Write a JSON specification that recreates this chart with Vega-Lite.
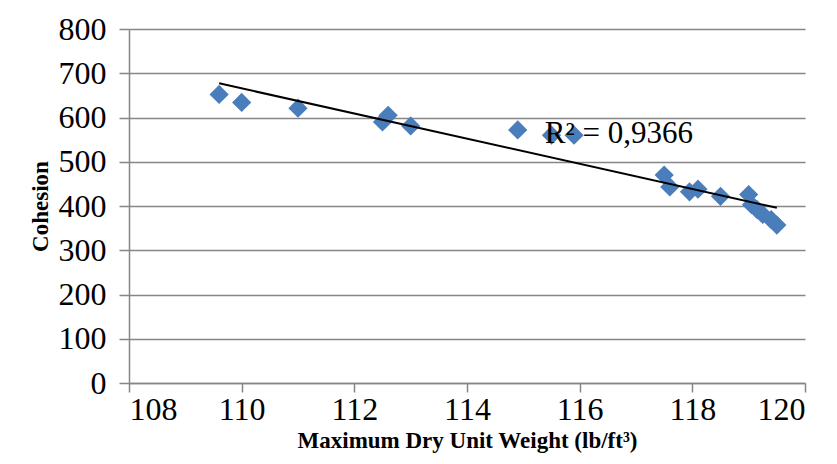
{
  "$schema": "https://vega.github.io/schema/vega-lite/v6.json",
  "width": 676,
  "height": 354,
  "autosize": {"type": "none"},
  "padding": {"left": 129, "top": 29, "right": 32, "bottom": 81},
  "background": "white",
  "config": {
    "font": "Liberation Serif",
    "axis": {"labelFont": "Liberation Serif", "titleFont": "Liberation Serif"},
    "text": {"font": "Liberation Serif"},
    "view": {"stroke": null}
  },
  "datasets": {
    "pts": [
      {"w": 109.6, "c": 652},
      {"w": 110.0, "c": 634},
      {"w": 111.0, "c": 621},
      {"w": 112.5, "c": 590},
      {"w": 112.6, "c": 605},
      {"w": 113.0, "c": 581},
      {"w": 114.9, "c": 572},
      {"w": 115.5, "c": 560},
      {"w": 115.9, "c": 560},
      {"w": 117.5, "c": 470},
      {"w": 117.6, "c": 443},
      {"w": 117.95, "c": 432},
      {"w": 118.1, "c": 438},
      {"w": 118.5, "c": 422},
      {"w": 119.0, "c": 426},
      {"w": 119.05, "c": 403},
      {"w": 119.15, "c": 392},
      {"w": 119.25, "c": 381},
      {"w": 119.4, "c": 369},
      {"w": 119.5, "c": 357}
    ],
    "lbl": [
      {"w": 115.38, "c": 542, "t": "R² = 0,9366"}
    ]
  },
  "layer": [
    {
      "data": {"name": "pts"},
      "mark": {"type": "point", "shape": "diamond", "filled": true, "size": 370, "color": "#4a7ebb", "opacity": 1},
      "encoding": {
        "x": {
          "field": "w", "type": "quantitative",
          "scale": {"domain": [108, 120], "nice": false, "zero": false},
          "axis": {
            "values": [108, 110, 112, 114, 116, 118, 120],
            "format": "d",
            "grid": false,
            "title": "Maximum Dry Unit Weight (lb/ft³)",
            "titleFont": "Liberation Serif",
            "titleFontWeight": "bold",
            "titleFontSize": 23,
            "titleColor": "black",
            "titlePadding": 4,
            "labelFont": "Liberation Serif",
            "labelFontSize": 32,
            "labelColor": "black",
            "labelPadding": 2,
            "tickSize": 9,
            "tickColor": "#868686",
            "tickWidth": 1.5,
            "domainColor": "#868686",
            "domainWidth": 1.5
          }
        },
        "y": {
          "field": "c", "type": "quantitative",
          "scale": {"domain": [0, 800], "nice": false},
          "axis": {
            "values": [0, 100, 200, 300, 400, 500, 600, 700, 800],
            "format": "d",
            "grid": true,
            "gridColor": "#868686",
            "gridWidth": 1.5,
            "title": "Cohesion",
            "titleFont": "Liberation Serif",
            "titleFontWeight": "bold",
            "titleFontSize": 23,
            "titleColor": "black",
            "titlePadding": 6,
            "labelFont": "Liberation Serif",
            "labelFontSize": 32,
            "labelColor": "black",
            "labelPadding": 13,
            "tickSize": 10,
            "tickColor": "#868686",
            "tickWidth": 1.5,
            "domainColor": "#868686",
            "domainWidth": 1.5
          }
        }
      }
    },
    {
      "data": {"name": "pts"},
      "transform": [{"regression": "c", "on": "w"}],
      "mark": {"type": "line", "color": "black", "strokeWidth": 2},
      "encoding": {
        "x": {"field": "w", "type": "quantitative"},
        "y": {"field": "c", "type": "quantitative"}
      }
    },
    {
      "data": {"name": "lbl"},
      "mark": {"type": "text", "align": "left", "baseline": "alphabetic", "fontSize": 31, "color": "black", "font": "Liberation Serif"},
      "encoding": {
        "x": {"field": "w", "type": "quantitative"},
        "y": {"field": "c", "type": "quantitative"},
        "text": {"field": "t"}
      }
    }
  ]
}
